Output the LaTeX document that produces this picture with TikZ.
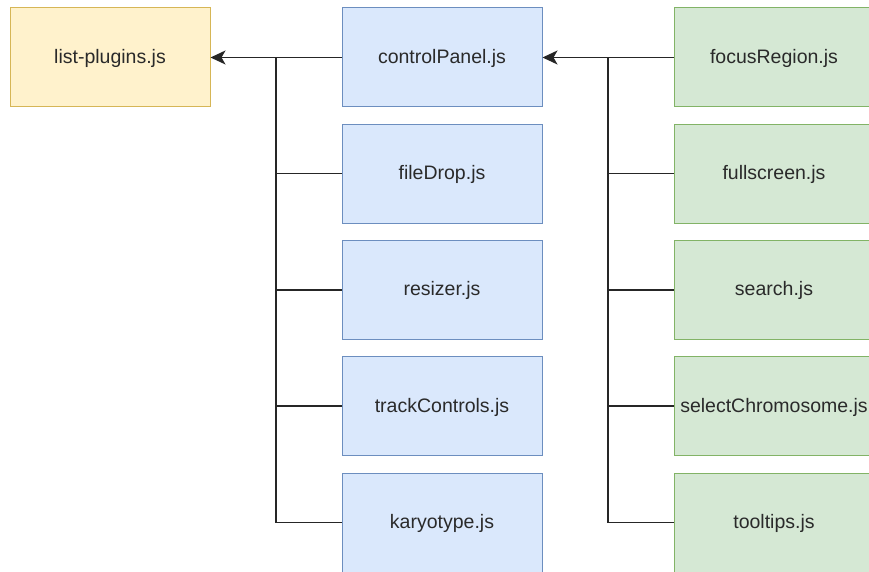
\documentclass[tikz,border=0pt]{standalone}
\usepackage{fontspec}
\setmainfont{Liberation Sans}
\usetikzlibrary{arrows.meta}
\definecolor{yfill}{HTML}{FFF2CC}\definecolor{ydraw}{HTML}{D6B656}
\definecolor{bfill}{HTML}{DAE8FC}\definecolor{bdraw}{HTML}{6C8EBF}
\definecolor{gfill}{HTML}{D5E8D4}\definecolor{gdraw}{HTML}{82B366}
\definecolor{txt}{HTML}{2A2A2A}
\tikzset{
  filebox/.style={rectangle, minimum width=200pt, minimum height=99pt, inner sep=0pt,
    text height=14.5pt, text depth=2.5pt,
    line width=1pt, text=txt, font=\fontsize{19.5}{22}\selectfont},
  hostbox/.style={filebox, fill=yfill, draw=ydraw},
  corebox/.style={filebox, fill=bfill, draw=bdraw},
  extbox/.style={filebox, fill=gfill, draw=gdraw},
  link/.style={line width=1.5pt, draw=black!85, -{Stealth[length=15pt,width=14pt,inset=4pt]}},
  feed/.style={line width=1.5pt, draw=black!85}
}
\begin{document}
\begin{tikzpicture}[x=1pt,y=-1pt]
\useasboundingbox (0,0) rectangle (869,572);
\clip (0,0) rectangle (869,572);
\fill[white] (0,0) rectangle (869,572);

% host file
\node[hostbox] (lp) at (110,57.5) {list-plugins.js};

% core plugins
\node[corebox] (cp) at (442,57.5)  {controlPanel.js};
\node[corebox] (fd) at (442,173.7) {fileDrop.js};
\node[corebox] (rs) at (442,289.9) {resizer.js};
\node[corebox] (tc) at (442,406.1) {trackControls.js};
\node[corebox] (ky) at (442,522.5) {karyotype.js};

% controlPanel extensions
\node[extbox] (fr) at (774,57.5)  {focusRegion.js};
\node[extbox] (fs) at (774,173.7) {fullscreen.js};
\node[extbox] (se) at (774,289.9) {search.js};
\node[extbox] (sc) at (774,406.1) {selectChromosome.js};
\node[extbox] (tt) at (774,522.5) {tooltips.js};

% bus lines
\coordinate (busA) at (276,0);
\coordinate (busB) at (608,0);

\draw[link] (cp.west) -- (lp.east);
\foreach \n in {fd,rs,tc,ky}
  \draw[feed] (\n.west) -- (\n.west -| busA) -- (busA |- lp.east);

\draw[link] (fr.west) -- (cp.east);
\foreach \n in {fs,se,sc,tt}
  \draw[feed] (\n.west) -- (\n.west -| busB) -- (busB |- cp.east);
\end{tikzpicture}
\end{document}
